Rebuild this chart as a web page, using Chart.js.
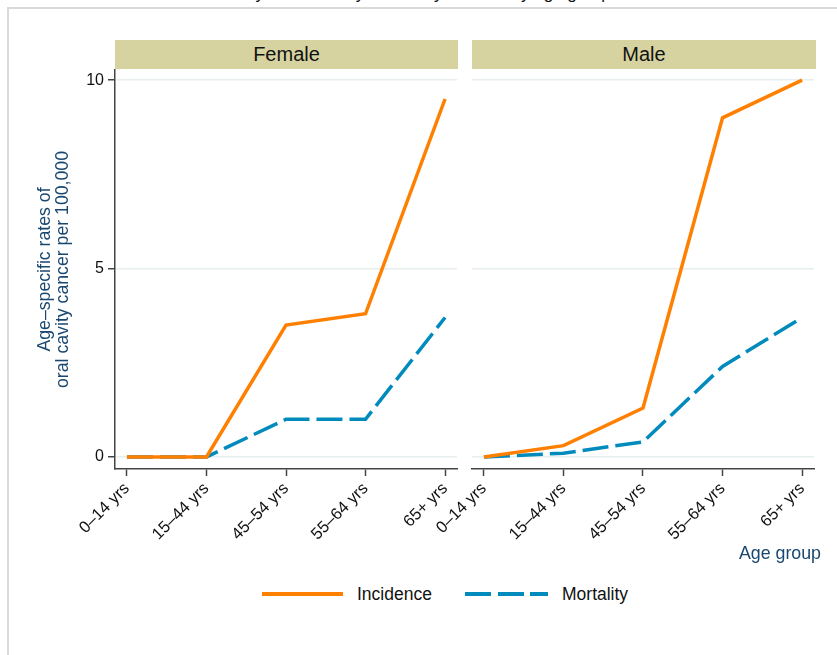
<!DOCTYPE html>
<html>
<head>
<meta charset="utf-8">
<script src="https://cdn.jsdelivr.net/npm/chart.js@4"></script>
<style>
html,body{margin:0;padding:0;background:#fff;overflow:hidden;width:837px;height:655px;font-family:"Liberation Sans",Arial,sans-serif;}
#frame{position:absolute;left:7px;top:7px;width:840px;height:700px;border-left:2px solid #d9d9d9;border-top:2px solid #d9d9d9;box-sizing:border-box;}
#title{position:absolute;left:0;width:700px;top:-16px;text-align:center;font-size:17px;line-height:20px;color:#111;white-space:nowrap;}
.hdr{position:absolute;top:40px;height:29px;background:#D7D3A0;color:#111;font-size:20px;line-height:29px;text-align:center;}
canvas{position:absolute;}
.lt{position:absolute;top:584px;font-size:17.5px;line-height:20px;color:#111;white-space:nowrap;}
.sw{position:absolute;top:592px;height:4px;}
#xtitle{position:absolute;right:16px;top:543px;font-size:17.8px;line-height:20px;color:#1A476F;white-space:nowrap;}
</style>
</head>
<body>
<div id="title">Incidence and mortality of oral cavity cancer by sex and by age group</div>
<div id="frame"></div>
<div class="hdr" id="hdrF" style="left:115px;width:343px;"></div>
<div class="hdr" id="hdrM" style="left:472px;width:344px;"></div>
<canvas id="cF" width="480" height="500" style="left:0px;top:50px;"></canvas>
<canvas id="cM" width="415" height="500" style="left:420px;top:50px;"></canvas>
<div id="xtitle"></div>
<div class="sw" style="left:262px;width:81px;background:#FF8000;"></div>
<div class="lt" id="lg0" style="left:357px;"></div>
<div class="sw" style="left:465px;width:26px;background:#008BBC;"></div>
<div class="sw" style="left:498px;width:26px;background:#008BBC;"></div>
<div class="sw" style="left:530px;width:18px;background:#008BBC;"></div>
<div class="lt" id="lg1" style="left:562px;"></div>
<script>
const ageGroups = ['0–14 yrs','15–44 yrs','45–54 yrs','55–64 yrs','65+ yrs'];
const panels = ['Female','Male'];
const seriesNames = ['Incidence','Mortality'];
const femaleIncidence = [0, 0, 3.5, 3.8, 9.5];
const femaleMortality = [0, 0, 1.0, 1.0, 3.7];
const maleIncidence = [0, 0.3, 1.3, 9.0, 10.0];
const maleMortality = [0, 0.1, 0.4, 2.4, 3.7];
const yTicks = [0, 5, 10];
const yTitle = ['Age–specific rates of', 'oral cavity cancer per 100,000'];
const xTitle = 'Age group';

const FONT = '"Liberation Sans", Arial, sans-serif';
const ORANGE = '#FF8000';
const BLUE = '#008BBC';
const NAVY = '#1A476F';
const AXIS = '#444444';

document.getElementById('hdrF').textContent = panels[0];
document.getElementById('hdrM').textContent = panels[1];
document.getElementById('lg0').textContent = seriesNames[0];
document.getElementById('lg1').textContent = seriesNames[1];
document.getElementById('xtitle').textContent = xTitle;

function pts(arr){ return arr.map((v,i)=>({x:i, y:v})); }

function makeChart(id, inc, mort, isLeft){
  return new Chart(document.getElementById(id), {
    type: 'line',
    data: { datasets: [
      { label: seriesNames[0], data: pts(inc), borderColor: ORANGE, borderWidth: 3.5,
        pointRadius: 0, fill: false, tension: 0, clip: false },
      { label: seriesNames[1], data: pts(mort), borderColor: BLUE, borderWidth: 3.5,
        borderDash: [26, 7], pointRadius: 0, fill: false, tension: 0, clip: false }
    ]},
    options: {
      responsive: false, animation: false, devicePixelRatio: 1,
      layout: { padding: isLeft ? {left:0, right:23, top:20, bottom:0} : {left:52, right:21, top:20, bottom:0} },
      plugins: { legend: {display:false}, tooltip: {enabled:false} },
      scales: {
        x: {
          type: 'linear', min: -0.15, max: 4.15,
          afterBuildTicks: s => { s.ticks = ageGroups.map((_, i) => ({value: i})); },
          afterFit: s => { s.height = 81; },
          ticks: { callback: v => ageGroups[v], minRotation: 45, maxRotation: 45, autoSkip: false,
                   font: {size: 16.5, family: FONT}, color: '#111', padding: 3 },
          grid: { drawOnChartArea: false, drawTicks: true, tickLength: 7, tickColor: AXIS, tickWidth: 1.5 },
          border: { display: true, color: AXIS, width: 1.5 }
        },
        y: {
          type: 'linear', min: -0.32, max: 10.27,
          afterBuildTicks: s => { s.ticks = yTicks.map(v => ({value: v})); },
          afterFit: s => { s.width = isLeft ? 115 : 0; },
          ticks: { display: isLeft, font: {size: 16, family: FONT}, color: '#111', padding: 4 },
          grid: { color: '#E6EEEF', lineWidth: 1.5, drawTicks: isLeft, tickLength: 7, tickColor: AXIS, tickWidth: 1.5 },
          border: { display: isLeft, color: AXIS, width: 1.5 },
          title: { display: isLeft, text: yTitle, color: NAVY,
                   font: {size: 17.7, family: FONT, lineHeight: 1.02}, padding: {top: 36, bottom: 0} }
        }
      }
    }
  });
}

makeChart('cF', femaleIncidence, femaleMortality, true);
makeChart('cM', maleIncidence, maleMortality, false);
</script>
</body>
</html>
